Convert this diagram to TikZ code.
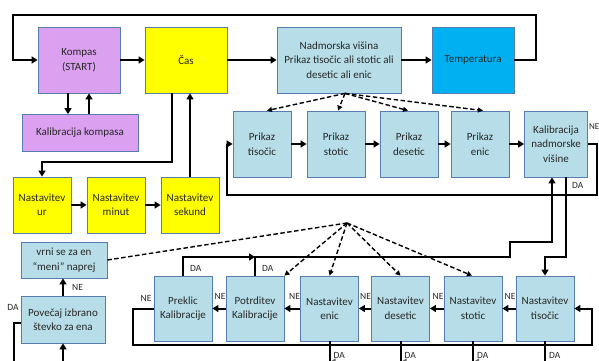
\documentclass[tikz,border=0pt]{standalone}
\usepackage{fontspec}
\setmainfont{Carlito}
\usetikzlibrary{arrows.meta}
\definecolor{vio}{RGB}{220,160,240}
\definecolor{yel}{RGB}{255,255,0}
\definecolor{lb}{RGB}{183,222,232}
\definecolor{tb}{RGB}{0,176,240}
\definecolor{bd}{RGB}{85,125,175}
\tikzset{
  box/.style={draw=bd, line width=0.8pt, align=center, inner sep=1pt,
    font=\fontsize{11}{14.5}\selectfont, text=black!85},
  wire/.style={line width=2pt, black},
  arr/.style={wire, -{Triangle[length=6pt,width=7pt]}},
  dsh/.style={line width=1.4pt, dash pattern=on 4.5pt off 2.5pt, -{Triangle[length=5pt,width=5pt]}},
  lbl/.style={font=\fontsize{9.5}{11}\selectfont, inner sep=0pt, text=black!85},
}
\begin{document}
\begin{tikzpicture}[x=1pt,y=-1pt]
\useasboundingbox (0,0) rectangle (599,361);
\fill[white] (0,0) rectangle (599,361);
\clip (0,0) rectangle (599,361);

% top row
\node[box, fill=vio, minimum width=82pt, minimum height=66pt] (kompas) at (79,60) {Kompas\\(START)};
\node[box, fill=yel, minimum width=82pt, minimum height=66pt] (cas) at (186,60) {Čas};
\node[box, fill=lb, minimum width=124pt, minimum height=66pt] (nadm) at (339,60) {Nadmorska višina\\Prikaz tisočic ali stotic ali\\desetic ali enic};
\node[box, fill=tb, minimum width=82pt, minimum height=66pt] (temp) at (473,60) {Temperatura};
\node[box, fill=vio, minimum width=116pt, minimum height=37pt] (kalk) at (80,133) {Kalibracija kompasa};

% time setting
\node[box, fill=yel, minimum width=58pt, minimum height=56pt] (ur) at (42,205) {Nastavitev\\ur};
\node[box, fill=yel, minimum width=58pt, minimum height=56pt] (minut) at (116,205) {Nastavitev\\minut};
\node[box, fill=yel, minimum width=58pt, minimum height=56pt] (sekund) at (190,205) {Nastavitev\\sekund};

% prikaz row
\node[box, fill=lb, minimum width=58pt, minimum height=66pt] (pt) at (262,144) {Prikaz\\tisočic};
\node[box, fill=lb, minimum width=58pt, minimum height=66pt] (ps) at (336,144) {Prikaz\\stotic};
\node[box, fill=lb, minimum width=58pt, minimum height=66pt] (pd) at (409,144) {Prikaz\\desetic};
\node[box, fill=lb, minimum width=58pt, minimum height=66pt] (pe) at (480,144) {Prikaz\\enic};
\node[box, fill=lb, minimum width=63pt, minimum height=66pt] (kaln) at (556,144) {Kalibracija\\nadmorske\\višine};

% left column
\node[box, fill=lb, minimum width=86pt, minimum height=36pt] (vrni) at (64,260) {vrni se za en\\“meni” naprej};
\node[box, fill=lb, minimum width=84pt, minimum height=47pt] (povecaj) at (63,319.5) {Povečaj izbrano\\števko za ena};

% bottom row
\node[box, fill=lb, minimum width=58pt, minimum height=65pt] (preklic) at (183,308.5) {Preklic\\Kalibracije};
\node[box, fill=lb, minimum width=58pt, minimum height=65pt] (potrd) at (255,308.5) {Potrditev\\Kalibracije};
\node[box, fill=lb, minimum width=58pt, minimum height=65pt] (nen) at (329.5,308.5) {Nastavitev\\enic};
\node[box, fill=lb, minimum width=58pt, minimum height=65pt] (nde) at (400.5,308.5) {Nastavitev\\desetic};
\node[box, fill=lb, minimum width=58pt, minimum height=65pt] (nst) at (473,308.5) {Nastavitev\\stotic};
\node[box, fill=lb, minimum width=58pt, minimum height=65pt] (nti) at (545,308.5) {Nastavitev\\tisočic};

% top loop and top row arrows
\draw[arr] (temp.east) -- (536,60) -- (536,15) -- (13,15) -- (13,60) -- (kompas.west);
\draw[arr] (kompas) -- (cas);
\draw[arr] (cas) -- (nadm);
\draw[arr] (nadm) -- (temp);
\draw[arr] (68,0 |- kompas.south) -- (68,0 |- kalk.north);
\draw[arr] (89,0 |- kalk.north) -- (89,0 |- kompas.south);

% time setting
\draw[arr] ([xshift=-14pt]cas.south) |- (42,162) -- (ur.north);
\draw[arr] (ur) -- (minut);
\draw[arr] (minut) -- (sekund);
\draw[arr] (sekund.north) -- (sekund.north |- cas.south);

% prikaz row
\draw[arr] (pt) -- (ps);
\draw[arr] (ps) -- (pd);
\draw[arr] (pd) -- (pe);
\draw[arr] (pe) -- (kaln);
\draw[arr] (kaln.east) -- (597,144) -- (597,195) -- (227,195) -- (227,144) -- (pt.west);
\node[lbl, anchor=east, font=\fontsize{9}{10}\selectfont] at (599.5,127) {NE};
\draw[arr] ([xshift=10pt]kaln.south) -- (566,257) -- (545,257) -- (nti.north);
\node[lbl, anchor=west] at (572,185) {DA};

% return to kalibracija
\draw[arr] (potrd.north) |- (510,257) -- (510,242) -| ([xshift=-4pt]kaln.south);
\draw[arr] (preklic.north) |- (potrd.north |- 0,257);
\node[lbl, anchor=west] at (190,268) {DA};
\node[lbl, anchor=west] at (262,268) {DA};

% bottom row
\draw[arr] (nti) -- (nst);
\draw[arr] (nst) -- (nde);
\draw[arr] (nde) -- (nen);
\draw[arr] (nen) -- (potrd);
\draw[arr] (potrd) -- (preklic);
\foreach \n in {nti,nst,nde,nen,potrd}{
  \node[lbl, anchor=east] at ([yshift=12pt]\n.west) {NE};
}
\node[lbl, anchor=east] at ([xshift=-2pt,yshift=10pt]preklic.west) {NE};
\draw[arr] (preklic.west) -- (133,308.5) -- (133,345) -- (592,345) -- (592,308.5) -- (nti.east);

\foreach \n in {nen,nde,nst,nti}{
  \draw[wire] (\n.south) -- ++(0,30);
  \node[lbl, anchor=west] at ([xshift=4pt]\n.south |- 0,355) {DA};
}
\draw[line width=0.6pt, black!60, -{Triangle[length=4pt,width=5pt]}] (nde.south |- 0,361) -- ([xshift=2pt]nen.south |- 0,361);
\draw[line width=0.6pt, black!60, -{Triangle[length=4pt,width=5pt]}] (nst.south |- 0,361) -- ([xshift=2pt]nde.south |- 0,361);
\draw[line width=0.6pt, black!60, -{Triangle[length=4pt,width=5pt]}] (nti.south |- 0,361) -- ([xshift=2pt]nst.south |- 0,361);

% left column
\draw[arr] (povecaj.north) -- (povecaj.north |- vrni.south);
\node[lbl, anchor=west] at (72,287) {NE};
\node[lbl] at (13,307) {DA};
\draw[wire] ([yshift=-3.5pt]povecaj.west) -| (14,370);
\draw[arr] (povecaj.south |- 0,370) -- (povecaj.south);

% dashed hubs
\coordinate (h1) at ([xshift=6pt]nadm.south);
\draw[dsh] (h1) -- ([xshift=5pt]pt.north);
\draw[dsh] (h1) -- ([xshift=2pt]ps.north);
\draw[dsh] (h1) -- ([xshift=-1pt]pd.north);
\draw[dsh] (h1) -- ([xshift=3pt]pe.north);

\coordinate (h2) at (347,223);
\draw[dsh, -] (h2) -- (vrni.east);
\draw[dsh] (h2) -- (potrd.north east);
\draw[dsh] (h2) -- (nen.north);
\draw[dsh] (h2) -- (nde.north);
\draw[dsh] (h2) -- ([xshift=-1pt]nst.north);
\end{tikzpicture}
\end{document}
